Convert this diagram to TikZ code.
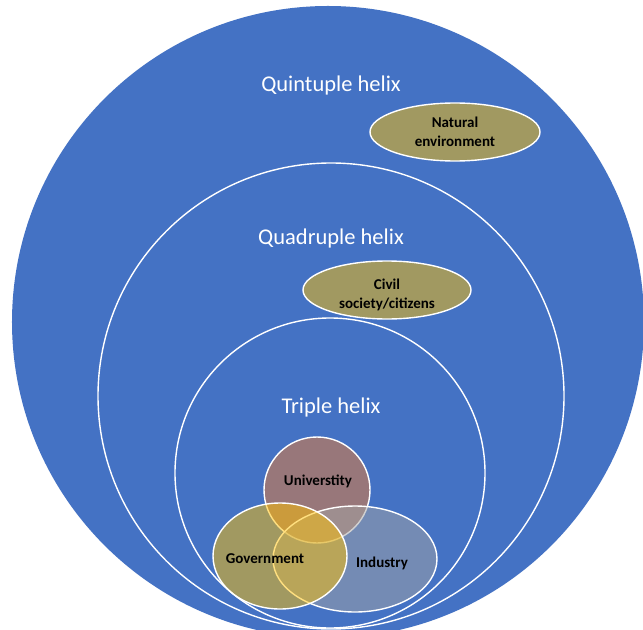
\documentclass[tikz,border=0pt]{standalone}
\usepackage{fontspec}
\setmainfont{Carlito}
\definecolor{helixblue}{HTML}{4472C4}
\definecolor{helixgold}{HTML}{FFC000}
\definecolor{helixorange}{HTML}{ED7D31}
\definecolor{helixgray}{HTML}{A5A5A5}
\begin{document}
\begin{tikzpicture}[x=1bp,y=-1bp,
  ring/.style={draw=white, line width=1.4bp},
  blob/.style={draw=white, line width=1.4bp, fill opacity=0.5, draw opacity=1},
  helix/.style={text=white, font=\fontsize{22.5bp}{27bp}\selectfont, anchor=base, inner sep=0pt},
  actor/.style={text=black, font=\bfseries\fontsize{15bp}{18bp}\selectfont, anchor=base, inner sep=0pt}]
\useasboundingbox (0,0) rectangle (643,630);
\clip (0,0) rectangle (643,630);
\fill[white] (0,0) rectangle (643,630);

% nested helix levels
\fill[helixblue] (328,322) circle[radius=316bp];
\draw[ring] (331,396) circle[radius=233bp];
\draw[ring] (330,473) circle[radius=155bp];

% actors added by the outer levels
\filldraw[blob, fill=helixgold] (455,132) ellipse[x radius=85bp, y radius=29bp];
\filldraw[blob, fill=helixgold] (387,290) ellipse[x radius=84bp, y radius=29bp];

% triple helix actors
\filldraw[blob, fill=helixorange] (317,490) circle[radius=53bp];
\filldraw[blob, fill=helixgray] (355,559) ellipse[x radius=82bp, y radius=53bp];
\filldraw[blob, fill=helixgold] (280,556) ellipse[x radius=67bp, y radius=53bp];

% level titles
\node[helix] (quint) at (331,92) {Quintuple helix};
\node[helix] (quad) at (331,244) {Quadruple helix};
\node[helix] (triple) at (331,413) {Triple helix};

% actor labels
\node[actor] (nat1) at (455,128) {Natural};
\node[actor] (nat2) at (455,147) {environment};
\node[actor] (civ1) at (387,289) {Civil};
\node[actor] (civ2) at (387,308) {society/citizens};
\node[actor] (uni) at (318,485) {Universtity};
\node[actor] (gov) at (265,563) {Government};
\node[actor] (ind) at (382,567) {Industry};
\end{tikzpicture}
\end{document}
